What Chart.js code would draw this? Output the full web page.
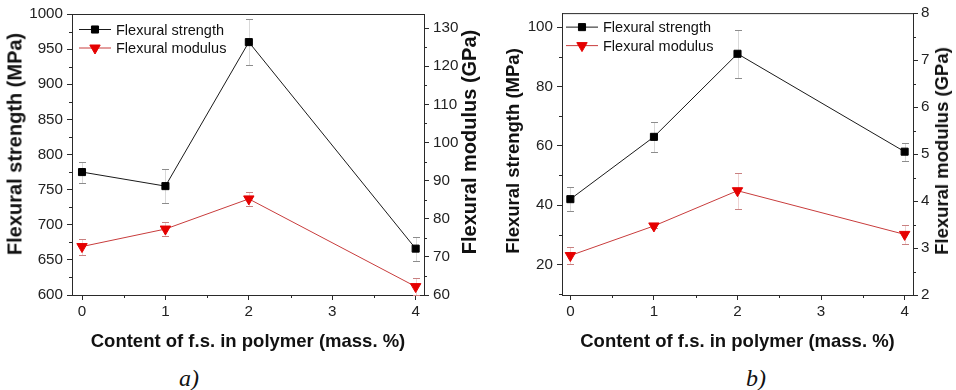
<!DOCTYPE html>
<html>
<head>
<meta charset="utf-8">
<script src="https://cdn.jsdelivr.net/npm/chart.js@4/dist/chart.umd.min.js"></script>
<style>
  body { margin: 0; background: #fff; width: 956px; height: 390px; position: relative; overflow: hidden; font-family: "Liberation Sans", Arial, sans-serif; }
  canvas { position: absolute; top: 0; }
  .ytitle { position: absolute; font-weight: bold; white-space: nowrap; color: #111; transform: translate(-50%, -50%) rotate(-90deg); }
  .panel { position: absolute; font-family: "Liberation Serif", "Times New Roman", serif; font-style: italic; font-size: 24px; color: #111; transform: translate(-50%, -50%); }
</style>
</head>
<body>
<canvas id="chartA" width="478" height="360" style="left:0px"></canvas>
<canvas id="chartB" width="478" height="360" style="left:478px"></canvas>

<div class="ytitle" style="left:15px;top:144px;font-size:20px">Flexural strength (MPa)</div>
<div class="ytitle" style="left:469px;top:142px;font-size:20px">Flexural modulus (GPa)</div>
<div class="ytitle" style="left:513px;top:151px;font-size:18.5px">Flexural strength (MPa)</div>
<div class="ytitle" style="left:942px;top:151px;font-size:18.5px">Flexural modulus (GPa)</div>
<div class="panel" style="left:189px;top:378px">a)</div>
<div class="panel" style="left:756px;top:378px">b)</div>

<script>
// === DATA ===
const xVals = [0, 1, 2, 4];
const xTicks = [0, 1, 2, 3, 4];
const xMinor = [0.5, 1.5, 2.5, 3.5];

// panel a)
const strengthA = [775, 755, 960, 666];
const strengthErrA = [15, 24, 33, 17];
const modulusA = [72.7, 77.3, 85.2, 62.2];
const modulusErrA = [2.1, 1.9, 1.9, 2.2];
const leftTicksA = [600, 650, 700, 750, 800, 850, 900, 950, 1000];
const leftMinorA = [625, 675, 725, 775, 825, 875, 925, 975];
const rightTicksA = [60, 70, 80, 90, 100, 110, 120, 130];
const rightMinorA = [65, 75, 85, 95, 105, 115, 125];

// panel b)
const strengthB = [42, 63, 91, 58];
const strengthErrB = [4, 5, 8, 3];
const modulusB = [2.84, 3.47, 4.22, 3.29];
const modulusErrB = [0.18, 0.05, 0.38, 0.2];
const leftTicksB = [20, 40, 60, 80, 100];
const leftMinorB = [10, 30, 50, 70, 90];
const rightTicksB = [2, 3, 4, 5, 6, 7, 8];
const rightMinorB = [2.5, 3.5, 4.5, 5.5, 6.5, 7.5];

const FONT = '"Liberation Sans", Arial, sans-serif';
const AXIS = '#2a2a2a';

// error bars, drawn under the markers
const errorBars = {
  id: 'errorBars',
  beforeDatasetsDraw(chart) {
    const ctx = chart.ctx;
    chart.data.datasets.forEach(ds => {
      if (!ds.errors) return;
      const xs = chart.scales.x;
      const ys = chart.scales[ds.yAxisID];
      ctx.save();
      ds.data.forEach((p, j) => {
        const e = ds.errors[j];
        const px = Math.round(xs.getPixelForValue(p.x)) + 0.5;
        const top = Math.round(ys.getPixelForValue(p.y + e)) + 0.5;
        const bot = Math.round(ys.getPixelForValue(p.y - e)) + 0.5;
        ctx.strokeStyle = ds.errLine;
        ctx.lineWidth = 1;
        ctx.beginPath();
        ctx.moveTo(px, top);
        ctx.lineTo(px, bot);
        ctx.stroke();
        ctx.strokeStyle = ds.errCap;
        ctx.beginPath();
        ctx.moveTo(px - 3.5, top); ctx.lineTo(px + 3.5, top);
        ctx.moveTo(px - 3.5, bot); ctx.lineTo(px + 3.5, bot);
        ctx.stroke();
      });
      ctx.restore();
    });
  }
};

// top frame line + minor ticks
const frame = {
  id: 'frame',
  afterDraw(chart, args, opts) {
    const ctx = chart.ctx;
    const a = chart.chartArea;
    ctx.save();
    ctx.strokeStyle = AXIS;
    ctx.lineWidth = 1;
    ctx.beginPath();
    ctx.moveTo(a.left, a.top + 0.5);
    ctx.lineTo(a.right, a.top + 0.5);
    const len = 3;
    opts.x.forEach(v => {
      const px = Math.round(chart.scales.x.getPixelForValue(v)) + 0.5;
      ctx.moveTo(px, a.bottom);
      ctx.lineTo(px, a.bottom + len);
    });
    opts.y.forEach(v => {
      const py = Math.round(chart.scales.y.getPixelForValue(v)) + 0.5;
      ctx.moveTo(a.left, py);
      ctx.lineTo(a.left - len, py);
    });
    opts.y1.forEach(v => {
      const py = Math.round(chart.scales.y1.getPixelForValue(v)) + 0.5;
      ctx.moveTo(a.right, py);
      ctx.lineTo(a.right + len, py);
    });
    ctx.stroke();
    ctx.restore();
  }
};

// legend inside the plot, top left
const inLegend = {
  id: 'inLegend',
  afterDraw(chart, args, opts) {
    const ctx = chart.ctx;
    const a = chart.chartArea;
    ctx.save();
    ctx.font = '14.5px ' + FONT;
    ctx.textBaseline = 'middle';
    chart.data.datasets.forEach((ds, i) => {
      const y = a.top + opts.dy + i * opts.gap;
      const x0 = a.left + opts.dx;
      ctx.strokeStyle = ds.borderColor;
      ctx.lineWidth = 1;
      ctx.beginPath();
      ctx.moveTo(x0, y);
      ctx.lineTo(x0 + 32, y);
      ctx.stroke();
      ctx.fillStyle = ds.pointBackgroundColor;
      ctx.strokeStyle = ds.pointBorderColor;
      Chart.helpers.drawPoint(ctx, {
        pointStyle: ds.pointStyle, radius: ds.pointRadius,
        rotation: ds.pointRotation || 0, borderWidth: 1
      }, x0 + 16, y);
      ctx.fillStyle = '#111';
      ctx.fillText(ds.label, x0 + 37, y + 1);
    });
    ctx.restore();
  }
};

function makeChart(id, o) {
  const tickFont = { family: FONT, size: 15.2 };
  const yAxis = (pos, min, max, ticks, width, pad) => ({
    type: 'linear', position: pos, min: min, max: max,
    afterBuildTicks: s => { s.ticks = ticks.map(v => ({ value: v })); },
    afterFit: s => { s.width = width; },
    grid: { drawOnChartArea: false, tickLength: 5, color: AXIS },
    border: { color: AXIS, width: 1 },
    ticks: { font: tickFont, color: '#222', padding: pad, autoSkip: false, callback: v => String(v) }
  });

  return new Chart(document.getElementById(id), {
    type: 'line',
    data: {
      datasets: [
        {
          label: 'Flexural strength',
          data: xVals.map((x, i) => ({ x: x, y: o.strength[i] })),
          errors: o.strengthErr,
          errLine: 'rgba(130,130,130,0.3)', errCap: '#8c8c8c',
          yAxisID: 'y',
          borderColor: '#1a1a1a', borderWidth: 1,
          pointStyle: 'rect', pointRadius: 5,
          pointBackgroundColor: '#000', pointBorderColor: '#000', pointBorderWidth: 1
        },
        {
          label: 'Flexural modulus',
          data: xVals.map((x, i) => ({ x: x, y: o.modulus[i] })),
          errors: o.modulusErr,
          errLine: 'rgba(200,110,110,0.3)', errCap: '#c98080',
          yAxisID: 'y1',
          borderColor: '#c83c3c', borderWidth: 1,
          pointStyle: 'triangle', pointRotation: 180, pointRadius: 6,
          pointBackgroundColor: '#e50000', pointBorderColor: '#e50000', pointBorderWidth: 1
        }
      ]
    },
    options: {
      responsive: false,
      animation: false,
      devicePixelRatio: 1,
      layout: { padding: { top: o.top, left: 0, right: 0, bottom: 0 } },
      plugins: {
        legend: { display: false },
        tooltip: { enabled: false },
        frame: { x: xMinor, y: o.leftMinor, y1: o.rightMinor },
        inLegend: { dx: o.legDx, dy: o.legDy, gap: 18.5 }
      },
      scales: {
        x: {
          type: 'linear', min: o.xMin, max: 4.1,
          afterBuildTicks: s => { s.ticks = xTicks.map(v => ({ value: v })); },
          afterFit: s => { s.height = 65; },
          grid: { drawOnChartArea: false, tickLength: 5, color: AXIS },
          border: { color: AXIS, width: 1 },
          ticks: { font: tickFont, color: '#222', padding: 3, maxRotation: 0, autoSkip: false, callback: v => String(v) },
          title: {
            display: true, text: 'Content of f.s. in polymer (mass. %)', color: '#111',
            font: { family: FONT, size: 18.5, weight: 'bold' }, padding: { top: 0, bottom: 7 }
          }
        },
        y: yAxis('left', o.yMin, o.yMax, o.leftTicks, o.leftW, 4),
        y1: yAxis('right', o.y1Min, o.y1Max, o.rightTicks, o.rightW, o.rightPad)
      }
    },
    plugins: [errorBars, frame, inLegend]
  });
}

makeChart('chartA', {
  strength: strengthA, strengthErr: strengthErrA,
  modulus: modulusA, modulusErr: modulusErrA,
  leftTicks: leftTicksA, leftMinor: leftMinorA,
  rightTicks: rightTicksA, rightMinor: rightMinorA,
  yMin: 600, yMax: 1000, y1Min: 60, y1Max: 133.7,
  xMin: -0.12, top: 14, leftW: 72, rightW: 54, rightPad: 4,
  legDx: 7, legDy: 15.5
});

makeChart('chartB', {
  strength: strengthB, strengthErr: strengthErrB,
  modulus: modulusB, modulusErr: modulusErrB,
  leftTicks: leftTicksB, leftMinor: leftMinorB,
  rightTicks: rightTicksB, rightMinor: rightMinorB,
  yMin: 9.7, yMax: 104.7, y1Min: 2, y1Max: 8,
  xMin: -0.1, top: 13, leftW: 84, rightW: 43, rightPad: 3,
  legDx: 4, legDy: 14
});
</script>
</body>
</html>
